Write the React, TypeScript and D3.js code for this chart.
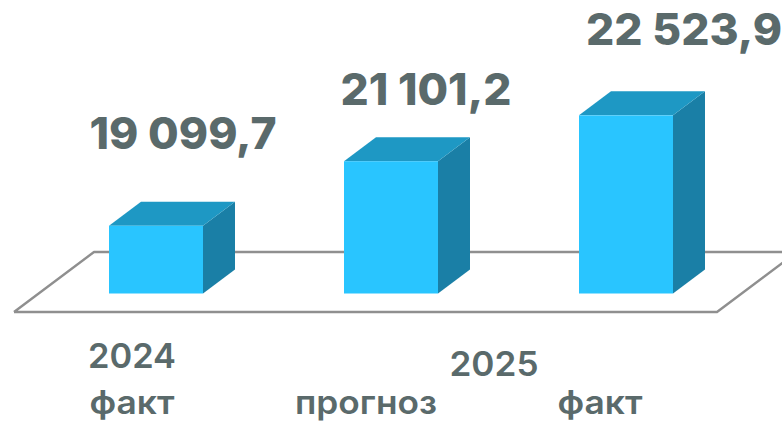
// App.tsx
import React, { useEffect, useRef } from 'react';
import * as d3 from 'd3';

const periods: string[] = ['2024 факт', '2025 прогноз', '2025 факт'];
const values: number[] = [19099.7, 21101.2, 22523.9];
const valueLabels: string[] = ['19 099,7', '21 101,2', '22 523,9'];
const subLabels: string[] = ['факт', 'прогноз', 'факт'];
const yearLabels: string[] = ['2024', '2025'];

// layout of the labels, they are not centred on the bars in the original
const valueLabelPos = [
  { x: 183, y: 149, w: 187 },
  { x: 426, y: 105, w: 171 },
  { x: 684, y: 45, w: 196 },
];
const subLabelPos = [
  { x: 132, w: 85 },
  { x: 366, w: 142 },
  { x: 600, w: 85 },
];
const yearLabelPos = [
  { x: 132, y: 368, w: 88 },
  { x: 494, y: 376, w: 89 },
];

const width = 782;
const height = 421;
const depthX = 32;
const depthY = 24;
const textColor = '#5a6a6b';
const font = 'Inter, "Open Sans", sans-serif';

const App: React.FC = () => {
  const svgRef = useRef<SVGSVGElement | null>(null);

  useEffect(() => {
    if (!svgRef.current) return;
    const svg = d3.select(svgRef.current);
    svg.selectAll('*').remove();

    const x = d3.scaleBand<string>().domain(periods).range([109, 673]).paddingInner(0.6).paddingOuter(0);
    const y = d3.scaleLinear().domain([17000, 23000]).range([293.5, 100]);

    // floor
    const line = d3.line();
    svg
      .append('path')
      .attr('d', line([[14, 312], [717, 312], [797, 252], [94, 252], [14, 312]]))
      .attr('fill', '#fff')
      .attr('stroke', '#8f8f8f')
      .attr('stroke-width', 2.4)
      .attr('stroke-linejoin', 'round');

    // bars
    const bars = svg
      .selectAll('g.bar')
      .data(periods)
      .join('g')
      .attr('class', 'bar');

    bars.each(function (d, i) {
      const g = d3.select(this);
      const x0 = x(d)!;
      const x1 = x0 + x.bandwidth();
      const top = y(values[i]);
      const bottom = y(17000);
      g.append('path')
        .attr('d', line([[x1, top], [x1 + depthX, top - depthY], [x1 + depthX, bottom - depthY], [x1, bottom]]) + 'Z')
        .attr('fill', '#1a7fa6');
      g.append('path')
        .attr('d', line([[x0, top], [x0 + depthX, top - depthY], [x1 + depthX, top - depthY], [x1, top]]) + 'Z')
        .attr('fill', '#1e98c4');
      g.append('rect')
        .attr('x', x0)
        .attr('y', top)
        .attr('width', x.bandwidth())
        .attr('height', bottom - top)
        .attr('fill', '#29c5ff');
    });

    // values
    svg
      .selectAll('text.value')
      .data(valueLabels)
      .join('text')
      .attr('class', 'value')
      .attr('x', (_, i) => valueLabelPos[i].x)
      .attr('y', (_, i) => valueLabelPos[i].y)
      .attr('text-anchor', 'middle')
      .attr('font-family', font)
      .attr('font-weight', 800)
      .attr('font-size', 44)
      .attr('textLength', (_, i) => valueLabelPos[i].w)
      .attr('lengthAdjust', 'spacingAndGlyphs')
      .attr('fill', textColor)
      .text((d) => d);

    // axis labels
    svg
      .selectAll('text.sub')
      .data(subLabels)
      .join('text')
      .attr('class', 'sub')
      .attr('x', (_, i) => subLabelPos[i].x)
      .attr('y', 414)
      .attr('text-anchor', 'middle')
      .attr('font-family', font)
      .attr('font-weight', 600)
      .attr('font-size', 33)
      .attr('textLength', (_, i) => subLabelPos[i].w)
      .attr('lengthAdjust', 'spacingAndGlyphs')
      .attr('fill', textColor)
      .text((d) => d);

    svg
      .selectAll('text.year')
      .data(yearLabels)
      .join('text')
      .attr('class', 'year')
      .attr('x', (_, i) => yearLabelPos[i].x)
      .attr('y', (_, i) => yearLabelPos[i].y)
      .attr('text-anchor', 'middle')
      .attr('font-family', font)
      .attr('font-weight', 600)
      .attr('font-size', 34)
      .attr('textLength', (_, i) => yearLabelPos[i].w)
      .attr('lengthAdjust', 'spacingAndGlyphs')
      .attr('fill', textColor)
      .text((d) => d);
  }, []);

  return (
    <svg
      ref={svgRef}
      width={width}
      height={height}
      style={{ position: 'absolute', left: 0, top: 0, background: '#fff' }}
    ></svg>
  );
};

export default App;
